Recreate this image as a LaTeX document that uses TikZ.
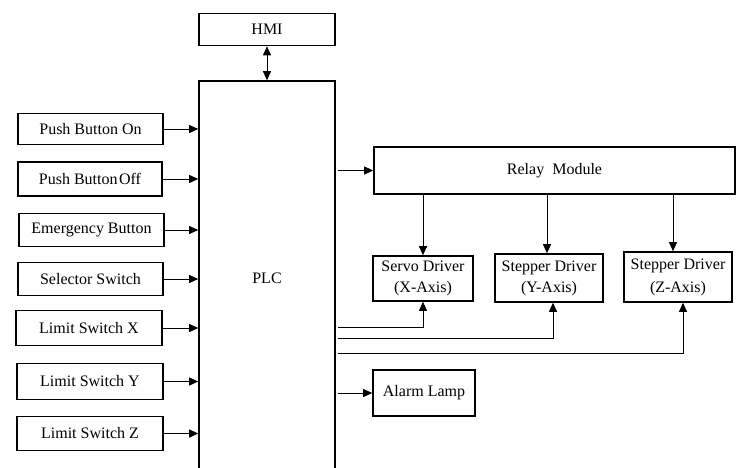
\documentclass[tikz,border=0pt]{standalone}
\usepackage{fontspec}
\setmainfont{Liberation Serif}
\usetikzlibrary{arrows.meta}
\begin{document}
\begin{tikzpicture}[x=1pt,y=-1pt,
  box/.style={draw,line width=1.6pt,inner sep=0pt,align=center,font=\fontsize{16}{21}\selectfont},
  conn/.style={line width=0.9pt,-{Triangle[length=9pt,width=8pt]}},
  conn2/.style={line width=0.9pt,{Triangle[length=9pt,width=8pt]}-{Triangle[length=9pt,width=8pt]}},
  wire/.style={line width=0.9pt}]
\useasboundingbox (0,0) rectangle (739,467);
\clip (0,0) rectangle (739,467);
% HMI and PLC
\node[box,minimum width=136pt,minimum height=32pt] (hmi) at (267,29.5) {HMI};
\node[box,minimum width=136pt,minimum height=394pt] (plc) at (267,278) {PLC};
% inputs
\node[box,minimum width=145pt,minimum height=31pt] (pbon) at (90.5,129) {Push Button On};
\node[box,minimum width=144pt,minimum height=34pt] (pboff) at (90,179) {Push Button\hspace{1.5pt}Off};
\node[box,minimum width=145pt,minimum height=33pt] (emg) at (91.5,230) {Emergency Button};
\node[box,minimum width=145pt,minimum height=33pt] (sel) at (90.5,279) {Selector Switch};
\node[box,minimum width=146pt,minimum height=35pt] (lsx) at (89,328) {Limit Switch X};
\node[box,minimum width=146pt,minimum height=36pt] (lsy) at (90,381.5) {Limit Switch Y};
\node[box,minimum width=146pt,minimum height=34pt] (lsz) at (90,433.5) {Limit Switch Z};
% outputs
\node[box,minimum width=361pt,minimum height=47pt] (relay) at (554.5,170.5) {Relay\ \ Module};
\node[box,minimum width=100pt,minimum height=45pt] (servo) at (423,278.5) {Servo Driver\\(X-Axis)};
\node[box,minimum width=108pt,minimum height=48pt] (stepy) at (549,278) {Stepper Driver\\(Y-Axis)};
\node[box,minimum width=108pt,minimum height=50pt] (stepz) at (678,277) {\raisebox{2pt}{Stepper Driver}\\(Z-Axis)};
\node[box,minimum width=102pt,minimum height=46pt] (alarm) at (424,393) {Alarm Lamp};
% connectors
\draw[conn2] (hmi.south) -- (plc.north);
\foreach \n in {pbon,pboff,emg,sel,lsx,lsy,lsz}
  \draw[conn] (\n.east) -- (\n.east -| plc.west);
\draw[conn] ([xshift=2pt]plc.east |- relay.west) -- (relay.west);
\draw[conn] (relay.south -| servo.north) -- (servo.north);
\draw[conn] ([xshift=-2pt]relay.south -| stepy.north) -- ([xshift=-2pt]stepy.north);
\draw[conn] ([xshift=-5pt]relay.south -| stepz.north) -- ([xshift=-5pt]stepz.north);
\draw[conn] ([xshift=2pt]plc.east |- 0,327) -| (servo.south);
\draw[conn] ([xshift=2pt]plc.east |- 0,338) -| ([xshift=4pt]stepy.south);
\draw[conn] ([xshift=2pt]plc.east |- 0,353) -| ([xshift=5pt]stepz.south);
\draw[conn] ([xshift=2pt]plc.east |- alarm.west) -- (alarm.west);
\end{tikzpicture}
\end{document}
